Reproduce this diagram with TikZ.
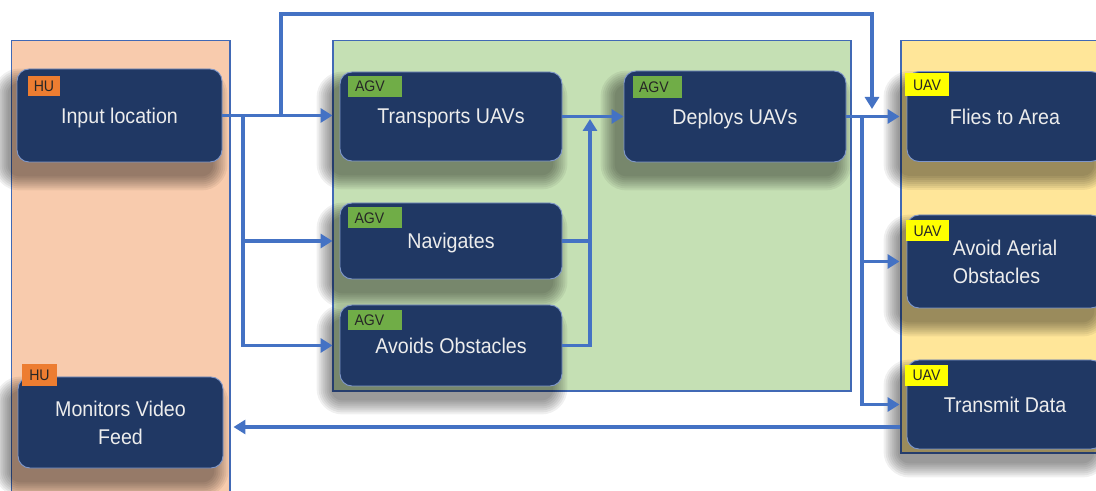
\documentclass[tikz,border=0pt]{standalone}
\usepackage{fontspec}
\setmainfont{Liberation Sans}[FakeStretch=0.92]
\usetikzlibrary{arrows.meta,calc}

\definecolor{navy}{HTML}{203864}
\definecolor{navyedge}{HTML}{7F97C9}
\definecolor{linkblue}{HTML}{4472C4}
\definecolor{panelline}{HTML}{4169B5}
\definecolor{hufill}{HTML}{F8CBAD}
\definecolor{agvfill}{HTML}{C5E0B4}
\definecolor{uavfill}{HTML}{FFE699}
\definecolor{hutag}{HTML}{ED7D31}
\definecolor{agvtag}{HTML}{70AD47}
\definecolor{uavtag}{HTML}{FFFF00}

\pgfdeclarelayer{lanes}
\pgfdeclarelayer{shade}
\pgfsetlayers{lanes,shade,main}

\begin{document}
\begin{tikzpicture}[x=0.75pt,y=-0.75pt,
  panel/.style={draw=panelline,line width=1.1pt},
  boxsize/.style 2 args={minimum width=#1*0.75pt,minimum height=#2*0.75pt},
  task/.style={rounded corners=9pt,fill=navy,draw=navyedge,line width=0.7pt,
    text=white!93!black,font=\fontsize{16}{21}\selectfont,align=center,inner sep=0pt,text depth=0pt},
  tag/.style={inner sep=0pt,font=\fontsize{11.5}{13}\selectfont,text=black!85},
  conn/.style={draw=linkblue,line width=2.9pt},
  arr/.style={conn,-{Triangle[length=9pt,width=10.5pt]}},
  gap/.style={shorten >=5.25pt}]

\useasboundingbox (0,0) rectangle (1096,491);

% swim lanes
\begin{pgfonlayer}{lanes}
\fill[white] (0,0) rectangle (1096,491);
\path[panel,fill=hufill] (11.5,40.5) rectangle (230,520);
\path[panel,fill=agvfill] (333,40.5) rectangle (851,391);
\path[panel,fill=uavfill] (901,40.5) rectangle (1130,453);
\end{pgfonlayer}

% tasks
\node[task,boxsize={205}{93}] (inp) at (119.5,115.5) {Input location};
\node[task,boxsize={205}{91}] (mon) at (120.5,422.5) {Monitors Video\\Feed};
\node[task,boxsize={222}{89}] (trn) at (451,116.5) {Transports UAVs};
\node[task,boxsize={222}{76}] (nav) at (451,241) {Navigates};
\node[task,boxsize={222}{81}] (avo) at (451,345.5) {Avoids Obstacles};
\node[task,boxsize={222}{91}] (dep) at (735,116.5) {Deploys UAVs};
\node[task,boxsize={196}{90}] (fly) at (1005,116.5) {Flies to Area};
\node[task,boxsize={196}{93},align=left] (aer) at (1005,261.5) {Avoid Aerial\\Obstacles};
\node[task,boxsize={196}{89}] (trm) at (1005,404.5) {Transmit Data};

% soft drop shadows under the task boxes
\begin{pgfonlayer}{shade}
\foreach \n in {inp,mon,trn,nav,avo,dep,fly,aer,trm}{
  \foreach \e in {14,12,10,8,6,4,2,0}{
    \pgfmathsetmacro\rc{9+0.75*\e}
    \fill[black,opacity=0.06,rounded corners=\rc pt]
      ($(\n.north west)+(-9-\e,14-\e)$) rectangle ($(\n.south east)+(-9+\e,14+\e)$);
  }
}
\end{pgfonlayer}

% actor tags
\node[tag,fill=hutag,boxsize={32}{20}] (tg1) at (44,86) {HU};
\node[tag,fill=hutag,boxsize={35}{22}] (tg2) at (39.5,375) {HU};
\node[tag,fill=agvtag,text width=40*0.75pt,inner xsep=7*0.75pt,align=left,boxsize={54}{21}] (tg3) at (375,86.5) {AGV};
\node[tag,fill=agvtag,text width=40*0.75pt,inner xsep=7*0.75pt,align=left,boxsize={54}{21}] (tg4) at (374.5,218) {AGV};
\node[tag,fill=agvtag,text width=40*0.75pt,inner xsep=7*0.75pt,align=left,boxsize={54}{20}] (tg5) at (374.5,320.5) {AGV};
\node[tag,fill=agvtag,text width=37*0.75pt,inner xsep=6*0.75pt,align=left,boxsize={49}{22}] (tg6) at (657.5,87.5) {AGV};
\node[tag,fill=uavtag,boxsize={44}{23}] (tg7) at (927,85) {UAV};
\node[tag,fill=uavtag,boxsize={43}{21}] (tg8) at (927.5,231) {UAV};
\node[tag,fill=uavtag,boxsize={43}{21}] (tg9) at (926.5,375.5) {UAV};

% junctions
\coordinate (jA) at (281,115.5);
\coordinate (jB) at (243,115.5);
\coordinate (fin) at (872,109);
\coordinate (jM) at (590,119);
\coordinate (jD) at (862,116.5);
\coordinate (rt) at ($(trm.west)+(0,22.5)$);

% connectors
\draw[arr,gap] (inp.east) -- (inp.east -| trn.west);
\draw[arr] (jA) -- ++(0,-101.5) -| (fin);
\draw[arr,gap] (jB) |- (nav.west);
\draw[arr,gap] (jB) |- (avo.west);
\draw[conn] (nav.east) -- (nav.east -| jM);
\draw[arr] (avo.east) -| (jM);
\draw[arr] (trn.east) -- (dep.west);
\draw[arr,gap] (dep.east) -- (dep.east -| fly.west);
\draw[arr,gap] (jD) |- (aer.west);
\draw[arr,gap] (jD) |- (trm.west);
\draw[arr,shorten <=5.25pt,shorten >=7.5pt] (rt) -- (rt -| mon.east);
\end{tikzpicture}
\end{document}
